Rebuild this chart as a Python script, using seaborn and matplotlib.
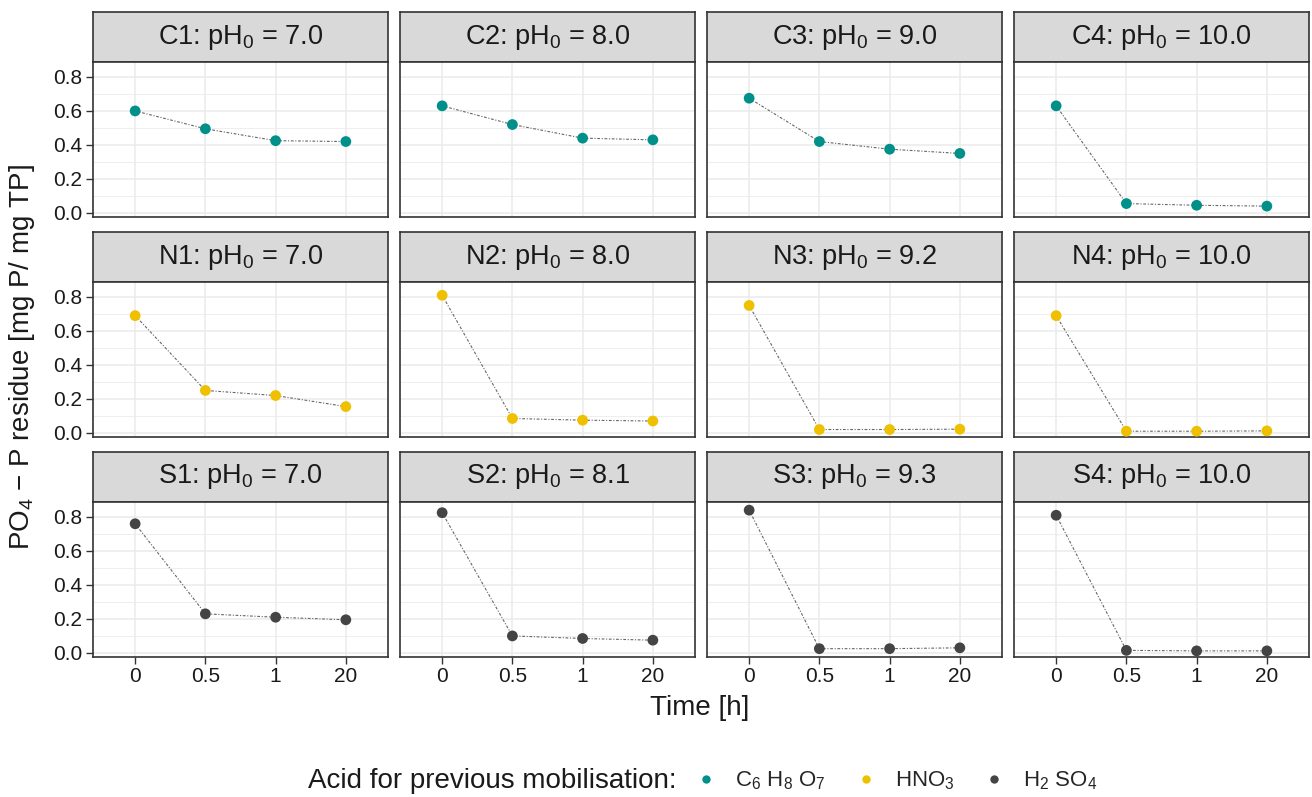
import matplotlib
matplotlib.use("Agg")
import matplotlib.pyplot as plt
import seaborn as sns
import pandas as pd
from matplotlib.lines import Line2D

sns.set_theme(style="white")
plt.rcParams['font.family'] = ['Liberation Sans', 'DejaVu Sans']
plt.rcParams['mathtext.fontset'] = 'custom'
plt.rcParams['mathtext.rm'] = 'Liberation Sans'
plt.rcParams['mathtext.it'] = 'Liberation Sans:italic'

# ---- data ----
times = ["0", "0.5", "1", "20"]
panel_ids = ["C1", "C2", "C3", "C4", "N1", "N2", "N3", "N4", "S1", "S2", "S3", "S4"]
panel_ph = ["7.0", "8.0", "9.0", "10.0", "7.0", "8.0", "9.2", "10.0", "7.0", "8.1", "9.3", "10.0"]
panel_acid = ["C", "C", "C", "C", "N", "N", "N", "N", "S", "S", "S", "S"]
C1 = [0.600, 0.495, 0.425, 0.420]
C2 = [0.630, 0.520, 0.440, 0.430]
C3 = [0.675, 0.420, 0.375, 0.350]
C4 = [0.630, 0.055, 0.045, 0.040]
N1 = [0.690, 0.250, 0.220, 0.155]
N2 = [0.810, 0.085, 0.075, 0.070]
N3 = [0.750, 0.020, 0.020, 0.022]
N4 = [0.690, 0.010, 0.010, 0.012]
S1 = [0.760, 0.230, 0.210, 0.195]
S2 = [0.825, 0.100, 0.085, 0.075]
S3 = [0.840, 0.025, 0.025, 0.030]
S4 = [0.810, 0.015, 0.012, 0.012]
values = [C1, C2, C3, C4, N1, N2, N3, N4, S1, S2, S3, S4]
acid_labels = {"C": r"C$_6$ H$_8$ O$_7$", "N": r"HNO$_3$", "S": r"H$_2$ SO$_4$"}
acid_colors = {"C": "#00908A", "N": "#EFC000", "S": "#444444"}
y_ticks = [0.0, 0.2, 0.4, 0.6, 0.8]

rows = []
for pid, ph, ac, vals in zip(panel_ids, panel_ph, panel_acid, values):
    for t, v in zip(times, vals):
        rows.append(dict(panel=pid, ph=ph, acid=ac, time=t, value=v))
df = pd.DataFrame(rows)

W, H = 1312, 797
fig = plt.figure(figsize=(W / 100, H / 100), dpi=100)

col_left = [93, 400, 707, 1014]
col_w = 295
row_top = [12, 232, 452]
strip_h = 50
panel_h = 155
border = "#333333"

for i, pid in enumerate(panel_ids):
    r, c = divmod(i, 4)
    x0 = col_left[c] / W
    ytop = row_top[r]
    # strip
    sax = fig.add_axes([x0, 1 - (ytop + strip_h) / H, col_w / W, strip_h / H])
    sax.set_facecolor("#D9D9D9")
    sax.set_xticks([]); sax.set_yticks([])
    for sp in sax.spines.values():
        sp.set_color(border); sp.set_linewidth(1.2); sp.set_visible(True)
    sax.text(0.5, 0.5, f"{pid}: pH$_0$ = {panel_ph[i]}", ha="center", va="center",
             fontsize=19.5, color="#1A1A1A", transform=sax.transAxes)
    # panel
    ax = fig.add_axes([x0, 1 - (ytop + strip_h + panel_h) / H, col_w / W, panel_h / H])
    sub = df[df.panel == pid]
    sns.lineplot(data=sub, x="time", y="value", ax=ax, color="#666666", lw=0.8,
                 linestyle=(0, (2.5, 1.5, 1, 1.5)), sort=False, zorder=2)
    sns.scatterplot(data=sub, x="time", y="value", ax=ax, color=acid_colors[panel_acid[i]],
                    s=60, edgecolor="none", zorder=3, legend=False)
    ax.set_xlim(-0.6, 3.6)
    ax.set_ylim(-0.024, 0.888)
    ax.set_yticks(y_ticks)
    ax.set_yticks([0.1, 0.3, 0.5, 0.7], minor=True)
    ax.grid(True, which="major", color="#EBEBEB", lw=1.1)
    ax.grid(True, which="minor", color="#EBEBEB", lw=0.6)
    ax.set_axisbelow(True)
    ax.set_facecolor("white")
    for sp in ax.spines.values():
        sp.set_color(border); sp.set_linewidth(1.2); sp.set_visible(True)
    ax.set_xlabel(""); ax.set_ylabel("")
    ax.tick_params(axis="both", which="major", length=5, width=1.0, color="#333333",
                   labelsize=15, labelcolor="#1A1A1A", pad=2.5, left=True, bottom=True)
    ax.tick_params(axis="both", which="minor", length=0)
    if c == 0:
        ax.set_yticklabels([f"{v:.1f}" for v in y_ticks])
    else:
        ax.set_yticklabels([])
        ax.tick_params(axis="y", left=False)
    ax.set_xticks(range(len(times)))
    if r == 2:
        ax.set_xticklabels(times)
    else:
        ax.set_xticklabels([])
        ax.tick_params(axis="x", bottom=False)

fig.text(700 / W, 1 - 708 / H, "Time [h]", ha="center", va="center", fontsize=20, color="#1A1A1A")
fig.text(22 / W, 1 - 357 / H, r"PO$_4$ − P residue [mg P/ mg TP]", ha="center", va="center",
         rotation=90, fontsize=20, color="#1A1A1A")

fig.text(492 / W, 1 - 781 / H, "Acid for previous mobilisation:", ha="center", va="center",
         fontsize=20, color="#1A1A1A")
handles = [Line2D([], [], marker="o", linestyle="none", markersize=6, markerfacecolor=acid_colors[a],
                  markeredgecolor="none", label=acid_labels[a]) for a in ["C", "N", "S"]]
fig.legend(handles=handles, loc="center left", bbox_to_anchor=(693 / W, 1 - 781 / H), ncol=3,
           frameon=False, fontsize=16, handletextpad=0.7, columnspacing=1.2, handlelength=1.2,
           borderpad=0, borderaxespad=0)

fig.savefig("out.png", dpi=100)
